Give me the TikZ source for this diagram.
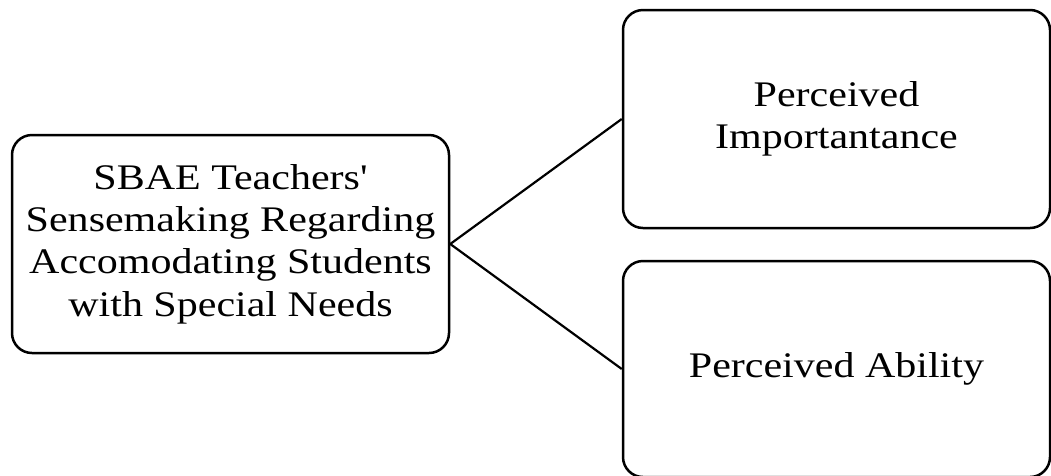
\documentclass[tikz,border=0pt]{standalone}
\usepackage{fontspec}
\setmainfont{Liberation Serif}
\newfontfamily\boxfont[FakeStretch=1.167]{Liberation Serif}
\begin{document}
\begin{tikzpicture}[x=1pt,y=1pt,
  box/.style={draw=black, line width=2.5pt, rounded corners=20pt, fill=white,
    align=center, inner sep=0pt,
    font=\boxfont\fontsize{36}{42.3}\selectfont},
  link/.style={draw=black, line width=2.2pt}]
\useasboundingbox (0,0) rectangle (1051,-475);
\node[box, minimum width=437pt, minimum height=218pt] (L) at (230.5,-244)
  {SBAE Teachers'\\Sensemaking Regarding\\Accomodating Students\\with Special Needs};
\node[box, minimum width=427pt, minimum height=218pt] (T) at (836.5,-119)
  {Perceived\\Importantance};
\node[box, minimum width=427pt, minimum height=216pt] (B) at (836.5,-369)
  {Perceived Ability};
\draw[link] (L.east) -- (T.west);
\draw[link] (L.east) -- (B.west);
\end{tikzpicture}
\end{document}
